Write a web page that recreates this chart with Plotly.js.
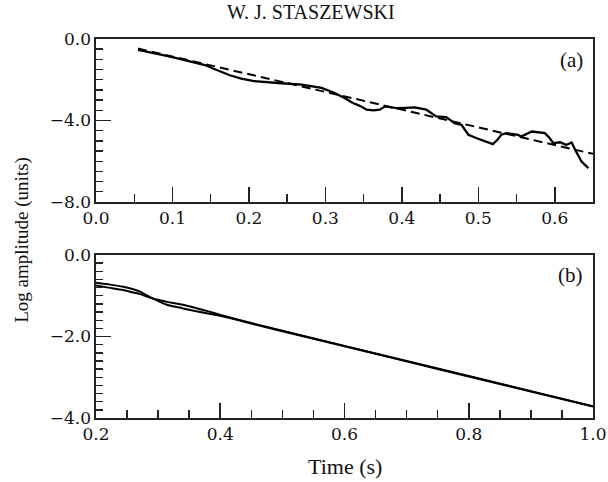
<!DOCTYPE html>
<html>
<head>
<meta charset="utf-8">
<script src="https://cdn.plot.ly/plotly-3.0.1.min.js"></script>
<style>html,body{margin:0;padding:0;background:#fff;}#chart{width:608px;height:482px;}</style>
</head>
<body>
<div id="chart"></div>
<script>
// Panel (a): measured log amplitude and straight-line fit
const timeA = [0.055,0.075,0.097,0.12,0.145,0.153,0.175,0.19,0.205,0.238,0.269,0.295,0.312,0.325,0.336,0.345,0.354,0.363,0.371,0.378,0.393,0.405,0.417,0.432,0.445,0.458,0.469,0.478,0.487,0.498,0.511,0.519,0.525,0.530,0.537,0.552,0.556,0.570,0.587,0.593,0.598,0.607,0.615,0.622,0.628,0.635,0.644];
const ampA  = [-0.53,-0.68,-0.86,-1.07,-1.31,-1.45,-1.78,-1.95,-2.06,-2.16,-2.24,-2.40,-2.65,-2.90,-3.14,-3.28,-3.47,-3.50,-3.47,-3.31,-3.39,-3.38,-3.36,-3.47,-3.80,-3.83,-4.13,-4.21,-4.70,-4.87,-5.03,-5.16,-4.95,-4.70,-4.62,-4.70,-4.79,-4.54,-4.62,-4.85,-5.11,-5.07,-5.20,-5.08,-5.53,-6.02,-6.34];
const fitTimeA = [0.055, 0.65];
const fitAmpA  = [-0.47, -5.64];

// Panel (b): two nearly coincident decay curves
const timeB = [0.2,0.22,0.244,0.26,0.271,0.282,0.292,0.303,0.314,0.34,0.378,0.405,0.45,0.5,0.6,0.7,0.8,0.9,1.0];
const ampB1 = [-0.68,-0.72,-0.78,-0.84,-0.90,-0.99,-1.07,-1.15,-1.22,-1.31,-1.43,-1.51,-1.68,-1.87,-2.24,-2.61,-2.98,-3.35,-3.72];
const ampB2 = [-0.75,-0.80,-0.86,-0.92,-0.96,-1.02,-1.07,-1.11,-1.15,-1.22,-1.37,-1.49,-1.67,-1.86,-2.23,-2.60,-2.97,-3.34,-3.71];

const titleText = 'W. J. STASZEWSKI';
const yTitle = 'Log amplitude (units)';
const xTitle = 'Time (s)';

const ink = '#222';
const tickFont = {family:'DejaVu Serif', size:17, color:'#111'};

const traces = [
  // empty traces only to register the minor-tick overlay subplots
  {x: [], y: [], xaxis:'x3', yaxis:'y3', mode:'lines', hoverinfo:'skip'},
  {x: [], y: [], xaxis:'x4', yaxis:'y4', mode:'lines', hoverinfo:'skip'},
  {x: timeA, y: ampA, xaxis:'x2', yaxis:'y2', mode:'lines', line:{color:'#000', width:2.3}, hoverinfo:'skip'},
  {x: fitTimeA, y: fitAmpA, xaxis:'x2', yaxis:'y2', mode:'lines', line:{color:'#000', width:2, dash:'9px,5px'}, hoverinfo:'skip'},
  {x: timeB, y: ampB1, xaxis:'x', yaxis:'y', mode:'lines', line:{color:'#000', width:2, shape:'spline'}, hoverinfo:'skip'},
  {x: timeB, y: ampB2, xaxis:'x', yaxis:'y', mode:'lines', line:{color:'#000', width:2, shape:'spline'}, hoverinfo:'skip'}
];

function ax(extra){
  return Object.assign({
    showline:true, linecolor:ink, linewidth:1.6, mirror:true,
    ticks:'inside', tickcolor:ink, tickwidth:1.6,
    showgrid:false, zeroline:false, tickfont:tickFont, tickformat:'.1f'
  }, extra);
}
function minorAx(extra){
  return Object.assign({
    showline:false, showticklabels:false, ticks:'inside', tickcolor:ink, tickwidth:1.4,
    showgrid:false, zeroline:false
  }, extra);
}

const layout = {
  width:608, height:482,
  margin:{l:96, r:15, t:39, b:64},
  paper_bgcolor:'#fff', plot_bgcolor:'rgba(0,0,0,0)',
  showlegend:false,
  xaxis: ax({range:[0.2,1.0], tick0:0.2, dtick:0.2, ticklen:15, anchor:'y', domain:[0,1]}),
  yaxis: ax({range:[-4,0], tick0:0, dtick:2, ticklen:15, anchor:'x', domain:[0,0.43]}),
  xaxis2: ax({range:[0,0.65], tick0:0, dtick:0.1, ticklen:15, anchor:'y2', domain:[0,1]}),
  yaxis2: ax({range:[-8,0], tick0:0, dtick:4, ticklen:15, anchor:'x2', domain:[0.57,1]}),
  xaxis3: minorAx({overlaying:'x', anchor:'y3', range:[0.2,1.0], tick0:0.2, dtick:0.05, ticklen:8}),
  yaxis3: minorAx({overlaying:'y', anchor:'x3', range:[-4,0], tick0:0, dtick:0.2, ticklen:7}),
  xaxis4: minorAx({overlaying:'x2', anchor:'y4', range:[0,0.65], tick0:0, dtick:0.05, ticklen:8}),
  yaxis4: minorAx({overlaying:'y2', anchor:'x4', range:[-8,0], tick0:0, dtick:0.5, ticklen:7}),
  annotations:[
    {text:titleText, xref:'paper', yref:'paper', x:0.433, y:1.071, showarrow:false, xanchor:'center', yanchor:'middle', font:{family:'Liberation Serif', size:20, color:'#111'}},
    {text:yTitle, xref:'paper', yref:'paper', x:-0.149, y:0.47, showarrow:false, textangle:-90, xanchor:'center', yanchor:'middle', font:{family:'Liberation Serif', size:19, color:'#111'}},
    {text:xTitle, xref:'paper', yref:'paper', x:0.5, y:-0.127, showarrow:false, xanchor:'center', yanchor:'middle', font:{family:'Liberation Serif', size:22, color:'#111'}},
    {text:'(a)', xref:'paper', yref:'paper', x:0.984, y:0.945, showarrow:false, xanchor:'right', yanchor:'middle', font:{family:'Liberation Serif', size:21, color:'#111'}},
    {text:'(b)', xref:'paper', yref:'paper', x:0.984, y:0.377, showarrow:false, xanchor:'right', yanchor:'middle', font:{family:'Liberation Serif', size:21, color:'#111'}}
  ]
};

Plotly.newPlot('chart', traces, layout, {staticPlot:true, displayModeBar:false});
</script>
</body>
</html>
